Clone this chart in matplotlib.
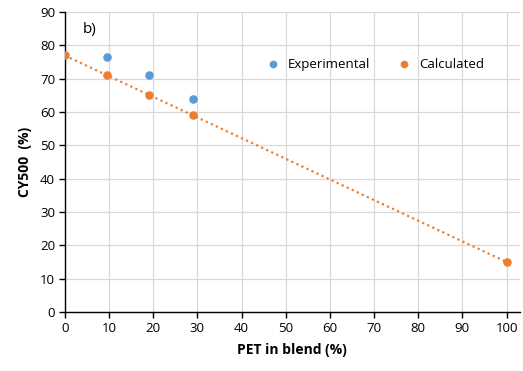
import numpy as np
import matplotlib.pyplot as plt

plt.rcParams['font.family'] = ['Open Sans', 'DejaVu Sans']

pet_exp = [9.5, 19, 29]
cy_exp = [76.5, 71, 64]
pet_calc = [0, 9.5, 19, 29, 100]
cy_calc = [77, 71, 65, 59, 15]

blue = '#5B9BD5'
orange = '#ED7D31'

fig = plt.figure(figsize=(5.23, 3.71), dpi=100)
ax = fig.add_axes([0.124, 0.159, 0.870, 0.809])

# linear trend through calculated points
k, b = np.polyfit(pet_calc, cy_calc, 1)
xs = np.array([0, 100])
ax.plot(xs, k * xs + b, color=orange, ls=(0, (1, 1.5)), lw=1.6, zorder=2)

ax.scatter(pet_exp, cy_exp, s=38, color=blue, zorder=3, label='Experimental', linewidths=0)
ax.scatter(pet_calc, cy_calc, s=38, color=orange, zorder=3, label='Calculated', linewidths=0)

ax.set_xlim(0, 103)
ax.set_ylim(0, 90)
ax.set_xticks(range(0, 101, 10))
ax.set_yticks(range(0, 91, 10))
ax.grid(color='#d9d9d9', lw=0.9)
ax.set_axisbelow(True)
for s in ['top', 'right']:
    ax.spines[s].set_visible(False)
for s in ['left', 'bottom']:
    ax.spines[s].set_color('black')
    ax.spines[s].set_linewidth(1.0)
ax.tick_params(labelsize=9.5, length=4, width=1, colors='black', pad=3)

ax.set_xlabel('PET in blend (%)', fontsize=10, fontweight='bold', labelpad=6)
ax.set_ylabel('CY500  (%)', fontsize=10, fontweight='bold', labelpad=6)
ax.text(4.1, 83.8, 'b)', fontsize=11)

ax.legend(loc='center', bbox_to_anchor=(0.675, 0.825), ncol=2, frameon=False,
          fontsize=9.5, handletextpad=0.1, columnspacing=1.6, markerscale=0.9)

plt.savefig('out.png', dpi=100)
